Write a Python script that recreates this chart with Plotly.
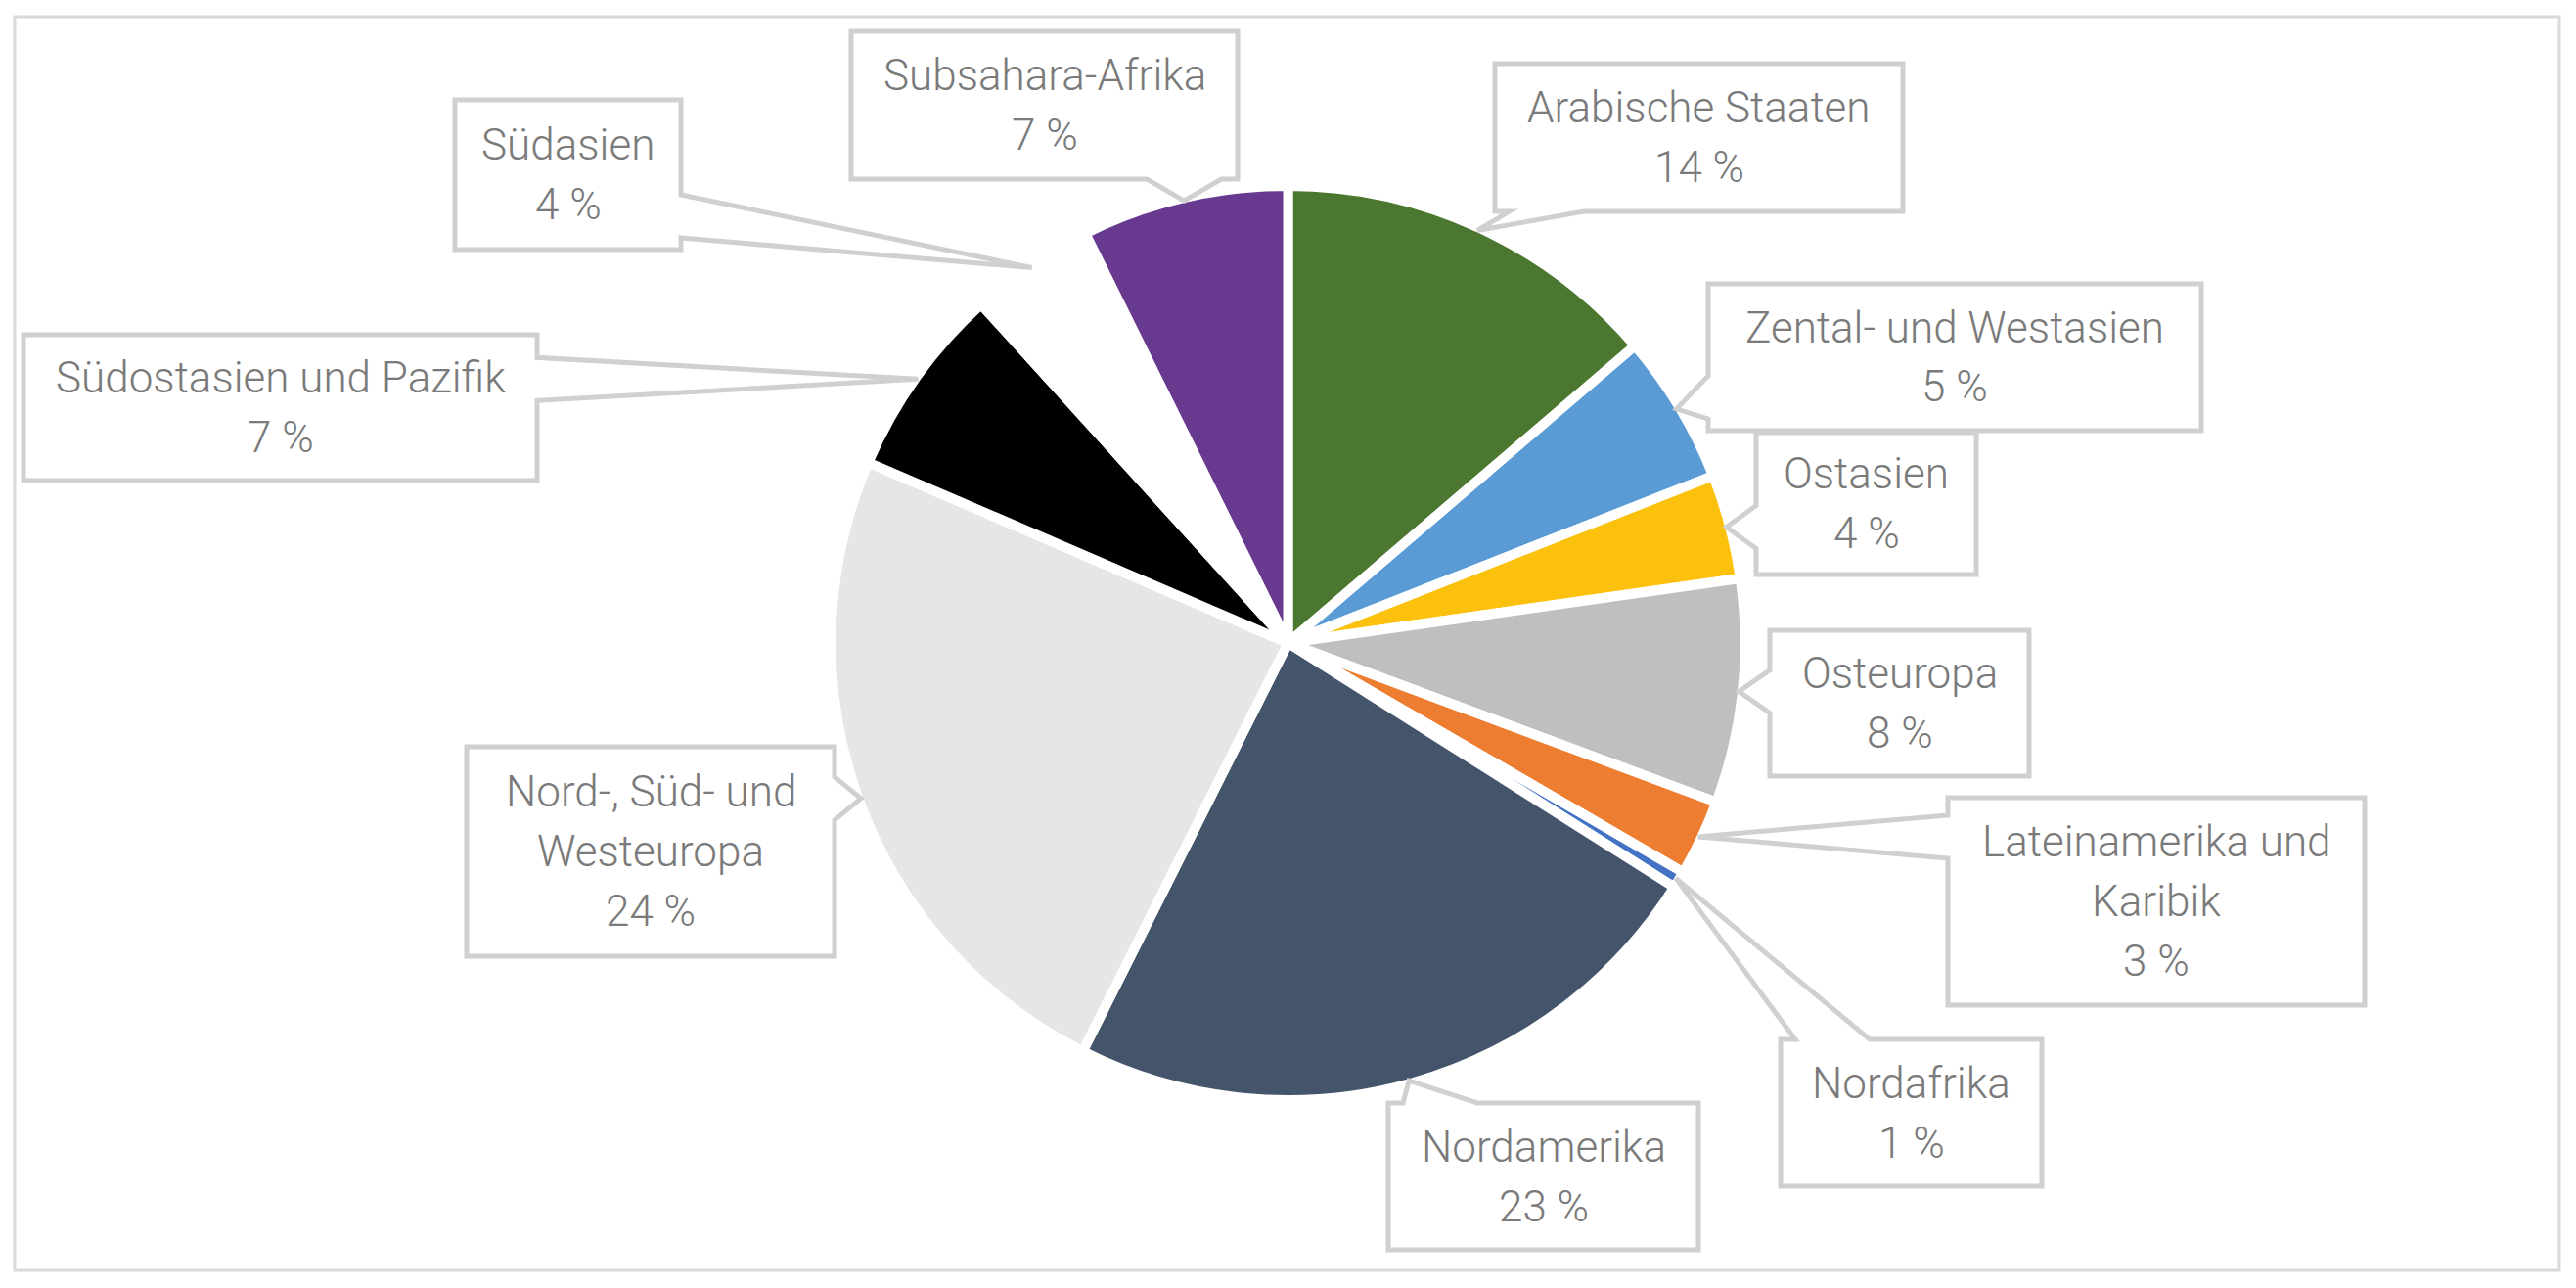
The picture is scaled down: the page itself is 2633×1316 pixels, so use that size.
import math
import plotly.graph_objects as go

# shares per region (percent), clockwise from 12 o'clock
regions = [
    "Arabische Staaten", "Zental- und Westasien", "Ostasien", "Osteuropa",
    "Lateinamerika und Karibik", "Nordafrika", "Nordamerika",
    "Nord-, Süd- und Westeuropa", "Südostasien und Pazifik", "Südasien",
    "Subsahara-Afrika",
]
shares = [13.7, 5.3, 3.7, 7.9, 2.7, 0.6, 23.4, 24.0, 6.8, 4.4, 7.3]
box_text = [
    "Arabische Staaten", "Zental- und Westasien", "Ostasien", "Osteuropa",
    "Lateinamerika und<br>Karibik", "Nordafrika", "Nordamerika",
    "Nord-, Süd- und<br>Westeuropa", "Südostasien und Pazifik", "Südasien",
    "Subsahara-Afrika",
]

colors = ["#4c7730", "#5b9bd5", "#fbc10c", "#bfbfbf", "#ed7d31", "#4472c4",
          "#44546a", "#e7e6e6", "#000000", "#ffffff", "#673a8f"]

W, H = 2633, 1316
CX, CY, R = 1316, 657, 467   # pie centre / radius in pixels
LINE_W = 10
LINE_GAP = 61                # distance between text lines in a box

# callout boxes (pixels: x0, y0, x1, y1)
boxes = [
    (1528, 65, 1945, 216), (1746, 290, 2250, 440), (1795, 442, 2020, 587),
    (1809, 644, 2074, 793), (1991, 815, 2417, 1027), (1820, 1062, 2087, 1212),
    (1419, 1127, 1736, 1277), (477, 763, 853, 977), (24, 342, 549, 491),
    (465, 102, 696, 255), (870, 32, 1265, 183),
]


def px(x, y):
    return x / W, 1 - y / H


def clamp(v, lo, hi):
    return max(lo, min(hi, v))


def callout_path(x0, y0, x1, y1, tx, ty):
    dx = tx - clamp(tx, x0, x1)
    dy = ty - clamp(ty, y0, y1)
    hh, hv = 38, 22
    pts = [(x0, y0)]
    if abs(dy) >= abs(dx) and dy < 0:  # top
        c = clamp(tx, x0 + hh + 15, x1 - hh - 15)
        pts += [(c - hh, y0), (tx, ty), (c + hh, y0)]
    pts.append((x1, y0))
    if abs(dx) > abs(dy) and dx > 0:  # right
        c = clamp(ty, y0 + hv + 12, y1 - hv - 12)
        pts += [(x1, c - hv), (tx, ty), (x1, c + hv)]
    pts.append((x1, y1))
    if abs(dy) >= abs(dx) and dy > 0:  # bottom
        c = clamp(tx, x0 + hh + 15, x1 - hh - 15)
        pts += [(c + hh, y1), (tx, ty), (c - hh, y1)]
    pts.append((x0, y1))
    if abs(dx) > abs(dy) and dx < 0:  # left
        c = clamp(ty, y0 + hv + 12, y1 - hv - 12)
        pts += [(x0, c + hv), (tx, ty), (x0, c - hv)]
    path = ""
    for i, (x, y) in enumerate(pts):
        X, Y = px(x, y)
        path += ("M" if i == 0 else "L") + f"{X:.5f},{Y:.5f} "
    return path + "Z"


fig = go.Figure(go.Pie(
    labels=regions,
    values=shares,
    sort=False,
    direction="clockwise",
    rotation=0,
    textinfo="none",
    hoverinfo="label+percent",
    marker=dict(colors=colors, line=dict(color="white", width=LINE_W)),
    domain=dict(x=[0.1, 0.9], y=[1 - (CY + R) / H, 1 - (CY - R) / H]),
    showlegend=False,
))

total = sum(shares)
cum = 0
shapes = [dict(type="rect", xref="paper", yref="paper",
               x0=15 / W, y0=1 - 1298 / H, x1=2616 / W, y1=1 - 17 / H,
               line=dict(color="#d9d9d9", width=3), layer="below")]
annotations = []
for name, v, txt, box in zip(regions, shares, box_text, boxes):
    theta = 2 * math.pi * (cum + v / 2) / total
    cum += v
    r_tip = R - LINE_W / 2 + 2
    tx = CX + r_tip * math.sin(theta)
    ty = CY - r_tip * math.cos(theta)
    x0, y0, x1, y1 = box
    shapes.append(dict(type="path", xref="paper", yref="paper",
                       path=callout_path(x0, y0, x1, y1, tx, ty),
                       fillcolor="white", line=dict(color="#d0d0d0", width=5),
                       layer="above"))
    lines = txt.split("<br>") + [f"{round(v)} %"]
    mid_x = (x0 + x1) / 2
    first_y = (y0 + y1) / 2 - LINE_GAP * (len(lines) - 1) / 2
    for j, line in enumerate(lines):
        lx, ly = px(mid_x, first_y + j * LINE_GAP)
        annotations.append(dict(
            x=lx, y=ly, xref="paper", yref="paper", showarrow=False,
            xanchor="center", yanchor="middle", align="center",
            text=line,
            font=dict(family="Roboto", size=44, color="#7a7a7a", weight=300),
        ))

fig.update_layout(
    width=W, height=H,
    margin=dict(l=0, r=0, t=0, b=0),
    paper_bgcolor="white",
    plot_bgcolor="white",
    shapes=shapes,
    annotations=annotations,
)

fig.write_html(
    "out.html",
    config={"displayModeBar": False},
    post_script="document.body.style.margin='0';document.body.style.overflow='hidden';",
)
